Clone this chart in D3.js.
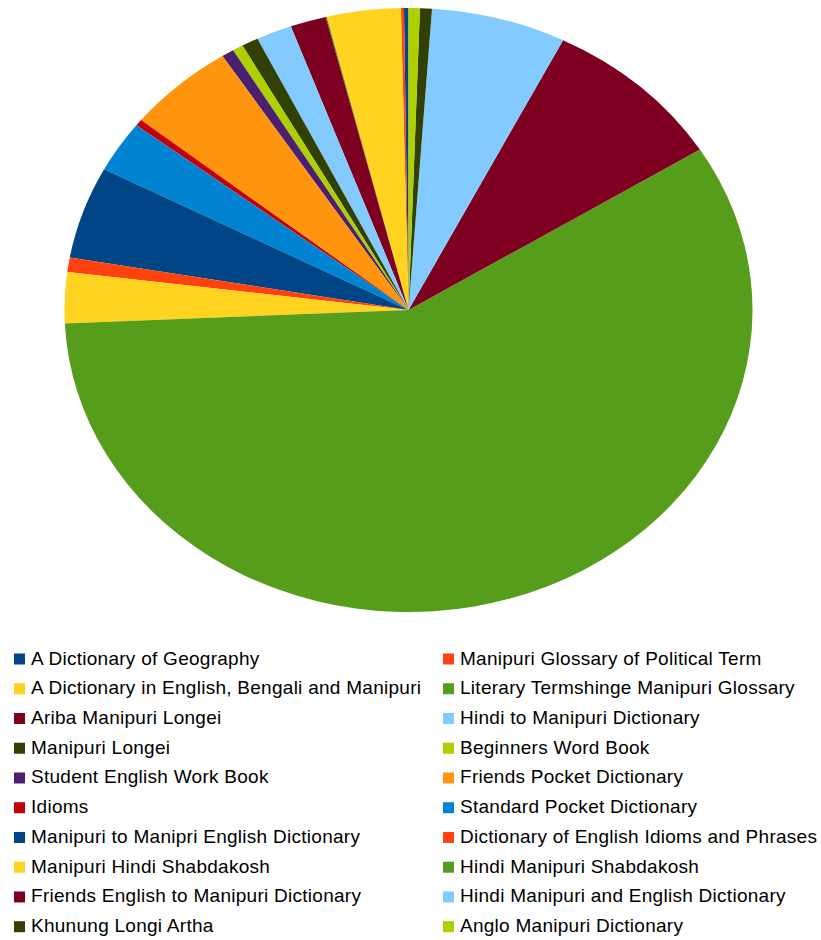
<!DOCTYPE html>
<html>
<head>
<meta charset="utf-8">
<script src="https://cdn.jsdelivr.net/npm/d3@7"></script>
<style>
  body { margin: 0; background: #fff; }
  svg { display: block; }
</style>
</head>
<body>
<div id="chart"></div>
<script>
// titles, in legend order (row by row)
const titles = [
    "A Dictionary of Geography",
    "Manipuri Glossary of Political Term",
    "A Dictionary in English, Bengali and Manipuri",
    "Literary Termshinge Manipuri Glossary",
    "Ariba Manipuri Longei",
    "Hindi to Manipuri Dictionary",
    "Manipuri Longei",
    "Beginners Word Book",
    "Student English Work Book",
    "Friends Pocket Dictionary",
    "Idioms",
    "Standard Pocket Dictionary",
    "Manipuri to Manipri English Dictionary",
    "Dictionary of English Idioms and Phrases",
    "Manipuri Hindi Shabdakosh",
    "Hindi Manipuri Shabdakosh",
    "Friends English to Manipuri Dictionary",
    "Hindi Manipuri and English Dictionary",
    "Khunung Longi Artha",
    "Anglo Manipuri Dictionary",
]

// share of each title (percent)
const shares = [
    0.21, 0.14, 3.47, 0.05, 1.69, 1.68, 0.78, 0.50, 0.58, 5.08,
    0.35, 2.76, 4.93, 0.78, 2.72, 58.22, 8.67, 6.33, 0.56, 0.53,
]

const palette = [
    "#004586", "#ff420e", "#ffd320", "#579d1c", "#7e0021", "#83caff",
    "#314004", "#aecf00", "#4b1f6f", "#ff950e", "#c5000b", "#0084d1",
]

const width = 821;
const height = 940;
const cx = 408.5, cy = 310;
const rx = 344, ry = 302;

const data = titles.map((t, i) => ({ title: t, value: shares[i], color: palette[i % palette.length] }));

const svg = d3.select("#chart")
    .append("svg")
    .attr("width", width)
    .attr("height", height)
    .attr("viewBox", [0, 0, width, height])
    .style("font-family", "'Liberation Sans', Arial, sans-serif");

svg.append("rect").attr("width", width).attr("height", height).attr("fill", "#fff");

// slices run counter-clockwise from 12 o'clock
const pie = d3.pie()
    .value(d => d.value)
    .sort(null)
    .startAngle(0)
    .endAngle(-2 * Math.PI);

const arc = d3.arc().innerRadius(0).outerRadius(rx);

svg.append("g")
    .attr("transform", `translate(${cx},${cy}) scale(1,${ry / rx})`)
    .selectAll("path")
    .data(pie(data))
    .join("path")
    .attr("d", arc)
    .attr("fill", d => d.data.color);

// legend, two columns, filled row by row
const colX = [14, 443];
const rowY = d3.scaleLinear().domain([0, 9]).range([653.5, 921.2]);

const item = svg.append("g")
    .selectAll("g")
    .data(data)
    .join("g")
    .attr("transform", (d, i) => `translate(${colX[i % 2]},${rowY(Math.floor(i / 2))})`);

item.append("rect")
    .attr("width", 11)
    .attr("height", 11)
    .attr("fill", d => d.color);

item.append("text")
    .attr("x", 17)
    .attr("y", 11)
    .attr("font-size", 19)
    .attr("letter-spacing", 0.27)
    .attr("fill", "#000")
    .text(d => d.title);
</script>
</body>
</html>
